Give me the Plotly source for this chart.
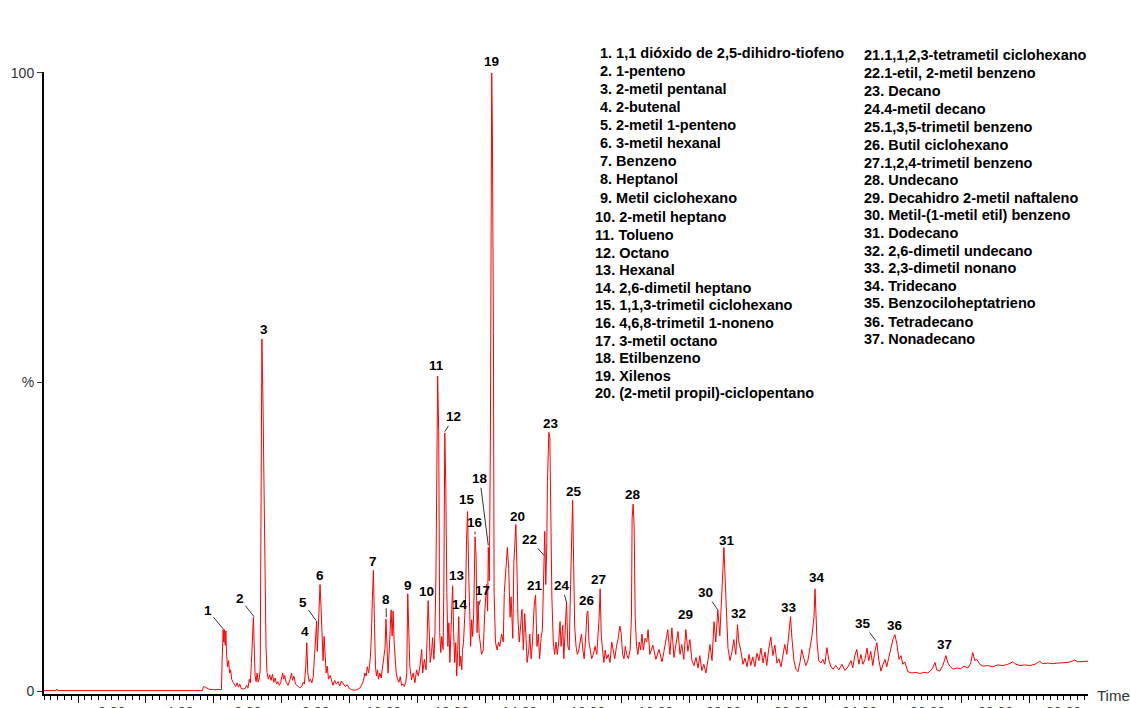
import plotly.graph_objects as go

# ---- chromatogram trace: (retention time in min, relative abundance in %) ----
seg_flat = [
    (0.00, 0.15), (0.35, 0.15), (0.38, 0.4), (0.41, 0.15), (4.66, 0.15), (4.69, 0.8),
    (4.75, 0.7), (4.80, 0.5), (4.86, 0.35), (5.00, 0.3), (5.20, 0.25),
]

seg_early = [
    (5.22, 0.3), (5.24, 5.0), (5.27, 10.0), (5.29, 8.0), (5.31, 10.0), (5.33, 7.5), (5.35, 9.8),
    (5.37, 6.0), (5.40, 4.0), (5.43, 5.0), (5.46, 3.0), (5.49, 3.5), (5.52, 2.0), (5.56, 1.5),
    (5.60, 1.2), (5.64, 0.8), (5.68, 1.4), (5.72, 0.7), (5.76, 1.2), (5.80, 0.5), (5.86, 0.4),
    (5.92, 0.5), (5.96, 1.0), (6.00, 0.6), (6.04, 2.0), (6.07, 1.4), (6.10, 4.5), (6.13, 8.0),
    (6.16, 12.0), (6.19, 6.0), (6.21, 2.5), (6.24, 1.6), (6.27, 3.0), (6.30, 1.5), (6.33, 2.0),
    (6.36, 3.5), (6.38, 18.9), (6.41, 57.0), (6.44, 47.5), (6.47, 33.8), (6.50, 15.0), (6.53, 7.3),
    (6.56, 3.1), (6.60, 2.0), (6.64, 2.7), (6.68, 1.8), (6.72, 2.8), (6.76, 1.5), (6.80, 2.2),
    (6.84, 1.2), (6.88, 1.6), (6.92, 1.0), (6.96, 1.4), (7.02, 3.0), (7.05, 2.0), (7.08, 2.6),
    (7.12, 1.5), (7.18, 1.0), (7.24, 2.0), (7.28, 3.0), (7.31, 1.8), (7.35, 2.5), (7.40, 1.2),
    (7.45, 1.0), (7.52, 0.6), (7.58, 0.8), (7.62, 1.5), (7.66, 1.2), (7.70, 4.0), (7.73, 7.9),
    (7.76, 3.0), (7.80, 1.6), (7.84, 2.0), (7.88, 1.4), (7.92, 2.4), (7.96, 6.0), (7.99, 9.0),
    (8.02, 11.4), (8.04, 6.5), (8.07, 11.0), (8.10, 14.0), (8.12, 17.3), (8.15, 13.6), (8.18, 7.3),
    (8.21, 5.0), (8.24, 8.9), (8.27, 5.5), (8.30, 3.0), (8.33, 4.1), (8.37, 2.0), (8.42, 2.6),
    (8.46, 1.5), (8.50, 1.0), (8.55, 1.8), (8.60, 1.2), (8.65, 1.6), (8.70, 0.9), (8.75, 1.7),
    (8.80, 1.2), (8.86, 0.8), (8.92, 1.1), (8.98, 0.5), (9.05, 0.3), (9.12, 0.2), (9.20, 0.3),
    (9.28, 0.5), (9.34, 1.0), (9.40, 1.8), (9.44, 3.0), (9.48, 2.5), (9.51, 4.0), (9.55, 3.0),
    (9.60, 5.5),
]

seg_mid = [
    (9.63, 9.0), (9.66, 15.1), (9.69, 19.6), (9.72, 11.0), (9.75, 4.0), (9.78, 2.5), (9.81, 3.5),
    (9.84, 2.0), (9.88, 3.0), (9.92, 2.2), (9.96, 4.0), (10.00, 5.5), (10.03, 7.0), (10.06, 11.7),
    (10.09, 5.0), (10.12, 3.0), (10.15, 6.0), (10.18, 10.0), (10.21, 13.2), (10.24, 9.0),
    (10.27, 13.0), (10.30, 8.0), (10.33, 6.0), (10.36, 3.0), (10.40, 2.0), (10.44, 1.5),
    (10.48, 2.4), (10.52, 1.0), (10.56, 1.2), (10.60, 0.8), (10.64, 1.5), (10.67, 3.0),
    (10.70, 15.8), (10.73, 8.0), (10.76, 4.1), (10.81, 1.9), (10.86, 3.0), (10.91, 1.4),
    (10.96, 3.5), (11.01, 2.5), (11.06, 4.1), (11.11, 6.8), (11.14, 3.0), (11.19, 5.2),
    (11.24, 3.5), (11.27, 8.9), (11.30, 14.7), (11.33, 10.0), (11.36, 4.7), (11.40, 6.3),
    (11.43, 8.7), (11.47, 5.2), (11.50, 9.5), (11.53, 19.2), (11.56, 41.8), (11.58, 51.0),
    (11.61, 42.2), (11.64, 9.5), (11.67, 6.3), (11.70, 8.9), (11.74, 6.8), (11.76, 16.0),
    (11.79, 41.8), (11.82, 33.0), (11.85, 16.0), (11.88, 7.3), (11.91, 11.1), (11.94, 4.7),
    (11.97, 9.5), (12.00, 13.8), (12.02, 17.1), (12.05, 9.5), (12.08, 4.7), (12.11, 7.9),
    (12.14, 2.5), (12.17, 6.8), (12.20, 12.1), (12.23, 4.1), (12.26, 5.7), (12.29, 3.5),
    (12.31, 6.8), (12.34, 7.9), (12.37, 10.6), (12.40, 14.9), (12.43, 24.6), (12.46, 29.1),
    (12.49, 19.7), (12.52, 11.6), (12.55, 7.3), (12.58, 11.6), (12.61, 8.9), (12.64, 12.7),
    (12.68, 25.0), (12.71, 21.9), (12.74, 9.5),
]

seg_main = [
    (12.77, 14.6), (12.80, 9.4), (12.87, 6.0), (12.92, 6.7), (12.97, 13.3), (13.02, 17.3),
    (13.05, 13.0), (13.07, 23.3), (13.10, 17.9), (13.13, 40.2), (13.17, 100.0), (13.19, 90.1),
    (13.22, 58.2), (13.24, 16.0), (13.28, 8.0), (13.33, 6.7), (13.37, 8.0), (13.41, 7.3),
    (13.46, 9.3), (13.51, 8.0), (13.54, 16.0), (13.59, 21.3), (13.63, 23.3), (13.67, 19.9),
    (13.71, 12.0), (13.74, 15.3), (13.79, 8.6), (13.82, 20.7), (13.85, 25.3), (13.88, 27.0),
    (13.91, 20.6), (13.94, 12.0), (13.98, 8.0), (14.02, 10.6), (14.06, 13.3), (14.10, 6.7),
    (14.14, 12.6), (14.18, 8.6), (14.21, 4.7), (14.26, 6.7), (14.29, 9.3), (14.33, 5.3),
    (14.37, 8.0), (14.42, 14.0), (14.46, 15.6), (14.50, 7.3), (14.54, 9.3), (14.58, 5.3),
    (14.62, 8.6), (14.66, 10.0), (14.70, 19.3), (14.73, 25.9), (14.76, 17.3), (14.79, 23.9),
    (14.81, 34.0), (14.85, 41.9), (14.88, 41.0), (14.91, 27.3), (14.94, 15.3), (14.98, 8.0),
    (15.02, 6.0), (15.06, 8.0), (15.10, 6.0), (15.14, 8.0), (15.18, 11.3), (15.21, 7.3),
    (15.26, 10.7), (15.29, 5.3), (15.33, 11.0), (15.37, 14.3), (15.41, 7.3), (15.45, 6.7),
    (15.49, 17.3), (15.52, 24.6), (15.55, 30.9), (15.58, 20.7), (15.61, 10.6), (15.65, 7.3),
    (15.69, 6.0), (15.73, 6.7), (15.76, 8.0), (15.81, 9.3), (15.85, 6.7), (15.89, 5.3),
    (15.94, 9.3), (15.97, 12.6), (16.00, 13.0), (16.03, 8.0), (16.07, 6.7), (16.11, 5.3),
    (16.16, 6.0), (16.21, 7.3), (16.26, 6.0), (16.30, 9.3), (16.33, 12.0), (16.36, 16.6),
    (16.39, 9.3), (16.43, 6.7), (16.47, 4.7), (16.51, 6.7), (16.55, 5.3), (16.60, 6.0),
    (16.65, 4.7), (16.70, 8.0), (16.74, 6.7), (16.79, 5.3), (16.84, 7.3), (16.89, 8.6),
    (16.94, 10.6), (16.98, 9.3), (17.02, 6.0), (17.06, 5.3), (17.10, 7.3), (17.14, 6.0),
    (17.19, 5.3), (17.24, 6.7), (17.28, 12.0), (17.30, 28.0), (17.33, 30.3), (17.36, 26.6),
    (17.39, 12.0), (17.43, 7.3), (17.47, 6.0), (17.51, 8.0), (17.55, 6.7), (17.59, 9.3),
    (17.63, 6.7), (17.68, 8.6), (17.73, 8.0), (17.77, 10.0),
]

seg_late = [
    (17.82, 6.0), (17.91, 7.5), (18.00, 5.2), (18.09, 6.8), (18.18, 4.8), (18.26, 7.0),
    (18.35, 10.0), (18.41, 6.0), (18.47, 10.3), (18.53, 5.5), (18.59, 7.5), (18.65, 9.7),
    (18.71, 6.0), (18.76, 7.6), (18.82, 5.2), (18.88, 10.0), (18.94, 6.5), (19.00, 8.4),
    (19.06, 5.0), (19.12, 4.2), (19.18, 5.5), (19.24, 3.8), (19.29, 5.8), (19.35, 3.4),
    (19.41, 4.4), (19.47, 3.0), (19.53, 5.0), (19.59, 7.6), (19.65, 5.0), (19.71, 11.3),
    (19.76, 8.0), (19.82, 13.2), (19.88, 9.0), (19.94, 16.5), (20.00, 23.3), (20.06, 15.0),
    (20.12, 7.0), (20.18, 5.0), (20.24, 6.5), (20.29, 8.4), (20.35, 6.0), (20.40, 10.8),
    (20.44, 8.0), (20.50, 6.5), (20.56, 4.4), (20.62, 5.4), (20.68, 4.0), (20.74, 6.0),
    (20.79, 4.2), (20.85, 5.6), (20.91, 4.0), (20.97, 6.2), (21.03, 5.0), (21.09, 7.0),
    (21.15, 4.6), (21.21, 6.4), (21.26, 4.2), (21.32, 6.9), (21.38, 8.8), (21.44, 5.8),
    (21.50, 7.5), (21.56, 4.6), (21.62, 5.3), (21.68, 4.0), (21.74, 6.0), (21.79, 7.6),
    (21.85, 6.0), (21.91, 9.5), (21.96, 12.1), (22.00, 8.7), (22.06, 5.0), (22.12, 3.6),
    (22.18, 3.2), (22.24, 4.8), (22.29, 6.8), (22.35, 5.4), (22.41, 4.2), (22.47, 5.0),
    (22.53, 6.8), (22.59, 9.0), (22.65, 12.0), (22.68, 16.6), (22.74, 8.0), (22.79, 5.0),
    (22.85, 4.6), (22.91, 5.2), (22.97, 4.4), (23.03, 7.1), (23.09, 5.0), (23.15, 4.0),
    (23.21, 3.6), (23.29, 4.2), (23.38, 3.5), (23.47, 4.4), (23.56, 3.4), (23.65, 4.0),
    (23.74, 5.0), (23.79, 3.8), (23.85, 5.8), (23.91, 6.8), (23.97, 4.4), (24.03, 6.0),
    (24.09, 4.4), (24.15, 5.2), (24.21, 7.0), (24.26, 5.0), (24.32, 6.5), (24.38, 4.2),
    (24.44, 6.5), (24.50, 7.9), (24.56, 5.0), (24.62, 3.3), (24.68, 4.4), (24.74, 5.2),
    (24.79, 4.0), (24.85, 5.4), (24.91, 6.8), (24.97, 8.4), (25.03, 9.2), (25.09, 7.6),
    (25.15, 5.2), (25.21, 5.8), (25.26, 4.4), (25.32, 4.8),
]

seg_tail = [
    (25.41, 3.2), (25.53, 3.0), (25.65, 3.1), (25.76, 2.9), (25.88, 3.1), (26.00, 3.0),
    (26.12, 3.6), (26.21, 4.7), (26.26, 3.5), (26.35, 3.3), (26.44, 4.2), (26.53, 5.8),
    (26.59, 4.6), (26.65, 4.1), (26.74, 3.6), (26.85, 3.8), (26.97, 3.7), (27.06, 4.1),
    (27.18, 3.8), (27.26, 4.6), (27.32, 6.3), (27.38, 5.0), (27.44, 5.2), (27.53, 4.4),
    (27.62, 4.1), (27.76, 4.2), (27.91, 4.0), (28.06, 4.3), (28.21, 4.2), (28.35, 4.4),
    (28.50, 4.8), (28.59, 4.4), (28.71, 4.2), (28.85, 4.3), (29.00, 4.2), (29.15, 4.4),
    (29.29, 4.9), (29.38, 4.5), (29.53, 4.6), (29.68, 4.5), (29.82, 4.6), (29.97, 4.6),
    (30.12, 4.7), (30.24, 4.9), (30.32, 5.1), (30.41, 4.8), (30.56, 4.8), (30.71, 4.9),
]

# ---- peak numbering ----
peak_numbers = list(range(1, 38))
label_time = [4.82, 5.76, 6.47, 7.68, 7.62, 8.12, 9.68, 10.06, 10.71, 11.26, 11.56, 12.06,
              12.15, 12.24, 12.44, 12.68, 12.91, 12.82, 13.15, 13.94, 14.44, 14.29, 14.91,
              15.24, 15.59, 15.97, 16.32, 17.32, 18.88, 19.47, 20.09, 20.44, 21.91, 22.74,
              24.09, 25.03, 26.50]
label_abund = [13.1, 15.0, 58.6, 9.7, 14.4, 18.7, 21.0, 14.9, 17.1, 16.2, 52.7, 44.4,
               18.7, 14.1, 31.0, 27.3, 16.3, 34.4, 100.0, 28.3, 17.1, 24.6, 43.3,
               17.1, 32.3, 14.7, 18.1, 31.8, 12.4, 16.0, 24.4, 12.6, 13.6, 18.4,
               11.0, 10.7, 7.6]
# where a leader line meets its peak (time, %)
leader_tips = {
    1: (5.29, 10.0), 2: (6.18, 12.1), 5: (8.00, 11.5), 8: (10.07, 12.0),
    12: (11.79, 42.0), 14: (12.21, 12.9), 16: (12.68, 25.4), 17: (12.79, 13.9),
    18: (13.07, 23.6), 22: (14.71, 22.0), 24: (15.38, 14.2), 30: (19.82, 13.2),
    35: (24.47, 8.2),
}
# labels that sit just above the top of the plot area (pixel lift)
label_lift = {19: 11}

compounds = [
    "1. 1,1 dióxido de 2,5-dihidro-tiofeno", "2. 1-penteno", "3. 2-metil pentanal",
    "4. 2-butenal", "5. 2-metil 1-penteno", "6. 3-metil hexanal", "7. Benzeno",
    "8. Heptanol", "9. Metil ciclohexano", "10. 2-metil heptano", "11. Tolueno",
    "12. Octano", "13. Hexanal", "14. 2,6-dimetil heptano",
    "15. 1,1,3-trimetil ciclohexano", "16. 4,6,8-trimetil 1-noneno", "17. 3-metil octano",
    "18. Etilbenzeno", "19. Xilenos", "20. (2-metil propil)-ciclopentano",
    "21.1,1,2,3-tetrametil ciclohexano", "22.1-etil, 2-metil benzeno", "23. Decano",
    "24.4-metil decano", "25.1,3,5-trimetil benzeno", "26. Butil ciclohexano",
    "27.1,2,4-trimetil benzeno", "28. Undecano", "29. Decahidro 2-metil naftaleno",
    "30. Metil-(1-metil etil) benzeno", "31. Dodecano", "32. 2,6-dimetil undecano",
    "33. 2,3-dimetil nonano", "34. Tridecano", "35. Benzociloheptatrieno",
    "36. Tetradecano", "37. Nonadecano",
]

time_tick_labels = [f"{t:.2f}" for t in range(2, 31, 2)]

# ---- figure geometry (pixels) ----
W, H = 1131, 708
L, R, T, B = 44, 1088, 72, 694
PW, PH = R - L, B - T


def px_to_paper(px, py):
    return (px - L) / PW, (B - py) / PH


points = seg_flat + seg_early + seg_mid + seg_main + seg_late + seg_tail
ret_time = [p[0] for p in points]
abundance = [p[1] for p in points]

FONT = "Liberation Sans, Arial, sans-serif"

fig = go.Figure()
fig.add_trace(go.Scatter(
    x=ret_time, y=abundance, mode="lines",
    line=dict(color="#ff0000", width=1), hoverinfo="skip", showlegend=False,
))

annotations = []
label_font = dict(family=FONT, size=13.5, color="black", weight="bold")

# peak numbers, with leader lines where the label sits away from its peak
for n, lt, la in zip(peak_numbers, label_time, label_abund):
    if n in leader_tips:
        tx, ty = leader_tips[n]
        annotations.append(dict(
            x=tx, y=ty, xref="x", yref="y", ax=lt, ay=la, axref="x", ayref="y",
            text=str(n), showarrow=True, arrowhead=0, arrowwidth=1, arrowcolor="#333333",
            standoff=0, startstandoff=0, font=label_font,
        ))
    else:
        annotations.append(dict(
            x=lt, y=la, xref="x", yref="y", text=str(n), showarrow=False,
            xanchor="center", yanchor="middle", yshift=label_lift.get(n, 0),
            font=label_font,
        ))

# compound list, two columns
col1_y = [53, 71, 89, 107, 125, 143, 161, 179, 198, 217, 235, 253, 270, 288, 305,
          323, 341, 358, 376, 393]
col2_y = [55, 73, 91, 109, 127, 145, 163, 180, 198, 215, 233, 251, 268, 286, 303, 322, 339]
for i, entry in enumerate(compounds):
    n = i + 1
    if n <= 20:
        px, py = (598 if n < 10 else 593), col1_y[i]
    else:
        px, py = 862, col2_y[i - 20]
    xp, yp = px_to_paper(px, py)
    annotations.append(dict(
        x=xp, y=yp, xref="paper", yref="paper", text=entry,
        showarrow=False, xanchor="left", yanchor="middle",
        font=dict(family=FONT, size=14.5, color="black", weight="bold"),
    ))

# time axis labels (they run off the bottom edge of the page)
tick_y = px_to_paper(0, 702)[1]
for lab in time_tick_labels:
    annotations.append(dict(
        x=float(lab), y=tick_y, xref="x", yref="paper", text=lab, showarrow=False,
        xanchor="center", yanchor="top", font=dict(family=FONT, size=14, color="#333333"),
    ))

tx, ty = px_to_paper(1113, 695)
annotations.append(dict(
    x=tx, y=ty, xref="paper", yref="paper", text="Time", showarrow=False,
    xanchor="center", yanchor="middle", font=dict(family=FONT, size=15, color="#333333"),
))

fig.update_layout(
    width=W, height=H, autosize=False,
    margin=dict(l=L, r=W - R, t=T, b=H - B, pad=0, autoexpand=False),
    paper_bgcolor="white", plot_bgcolor="white",
    showlegend=False,
    annotations=annotations,
    xaxis=dict(
        range=[0, 30.71], showgrid=False, zeroline=False,
        showline=True, linecolor="black", linewidth=2,
        ticks="outside", tickmode="linear", tick0=1, dtick=2, ticklen=7, tickwidth=1,
        tickcolor="black", showticklabels=False,
        minor=dict(ticks="outside", tick0=0, dtick=0.2, ticklen=4, tickwidth=1,
                   tickcolor="black", showgrid=False),
    ),
    yaxis=dict(
        range=[-0.4, 100.16], showgrid=False, zeroline=False,
        showline=True, linecolor="black", linewidth=2,
        ticks="outside", ticklen=5, tickwidth=1, tickcolor="#333333",
        tickmode="array", tickvals=[0, 50, 100], ticktext=["0", "%", "100"],
        tickfont=dict(family=FONT, size=14, color="#333333"),
    ),
)

fig.write_html("out.html")
